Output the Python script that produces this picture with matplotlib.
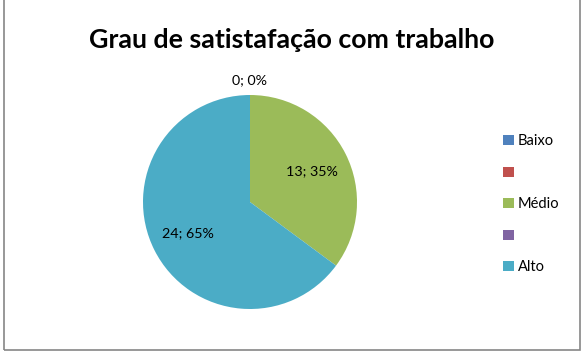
import numpy as np
import matplotlib
matplotlib.use("Agg")
import matplotlib.pyplot as plt
from matplotlib.patches import Rectangle, Patch

categories = ["Baixo", "", "Médio", "", "Alto"]
values = [0, None, 13, None, 24]
colors = ["#4F81BD", "#C0504D", "#9BBB59", "#8064A2", "#4BACC6"]
title = "Grau de satistafação com trabalho"

plt.rcParams['font.family'] = ['Lato', 'DejaVu Sans']

W, H = 585, 353
fig = plt.figure(figsize=(W / 100, H / 100), dpi=100)
ax = fig.add_axes([0, 0, 1, 1])

# frame
ax.add_patch(Rectangle((4, 3.5), 576, 360, fill=False, edgecolor="#868686", lw=1.2))

vals = [v if v is not None else 0 for v in values]
center = (250, 151)
radius = 107
wedges, _ = ax.pie(vals, colors=colors, startangle=90, counterclock=False,
                   center=center, radius=radius, frame=True,
                   wedgeprops=dict(linewidth=0))
ax.set_xlim(0, W)
ax.set_ylim(0, H)
ax.set_aspect('auto')
ax.axis('off')

total = sum(vals)
for w, v in zip(wedges, values):
    if v is None:
        continue
    mid = np.deg2rad((w.theta1 + w.theta2) / 2)
    d = 0.65 if v > 0 else 1.14
    x = center[0] + d * radius * np.cos(mid)
    y = center[1] + d * radius * np.sin(mid)
    pct = round(100 * v / total)
    ax.text(x, y, f"{v}; {pct}%", ha='center', va='center', fontsize=10.3, color='black')

ax.text(292, H - 40, title, ha='center', va='center', fontsize=19.3, fontweight='bold')

handles = [Patch(facecolor=c, edgecolor='none') for c in colors]
leg = fig.legend(handles, categories, loc='upper left',
                 bbox_to_anchor=(496 / W, 1 - 127 / H), frameon=False,
                 fontsize=10.5, handlelength=0.7, handleheight=0.7,
                 handletextpad=0.3, labelspacing=1.2, borderpad=0)

fig.savefig("out.png", dpi=100)
